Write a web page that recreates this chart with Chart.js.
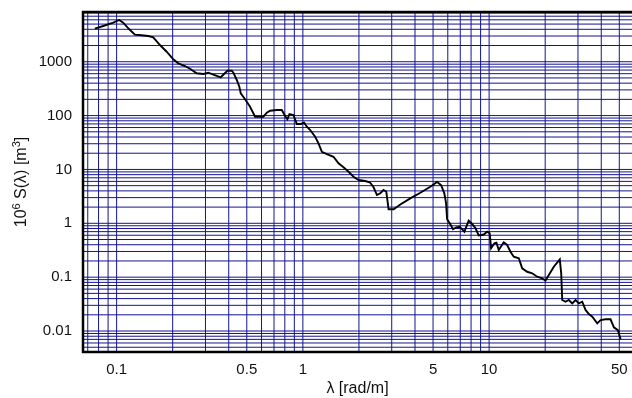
<!DOCTYPE html>
<html>
<head>
<meta charset="utf-8">
<script src="https://cdn.jsdelivr.net/npm/chart.js@4.4.1/dist/chart.umd.min.js"></script>
<style>
  html, body { margin: 0; padding: 0; background: #fff; }
  #chart { display: block; }
</style>
</head>
<body>
<canvas id="chart" width="632" height="398"></canvas>
<script>
// wavenumber lambda [rad/m]
const lambda = [
  0.0764, 0.0847, 0.0959, 0.1033, 0.1085, 0.1169, 0.1254, 0.1363, 0.1479, 0.1573,
  0.1709, 0.1857, 0.2015, 0.2144, 0.2329, 0.2477, 0.2692, 0.2921, 0.3108, 0.3307,
  0.3623, 0.3775, 0.3932, 0.4152, 0.4235, 0.4417, 0.456, 0.464, 0.4896, 0.5206,
  0.554, 0.614, 0.6404, 0.6671, 0.7247, 0.771, 0.8033, 0.8264, 0.8472, 0.8902,
  0.9284, 0.9755, 1.016, 1.051, 1.095, 1.164, 1.213, 1.265, 1.346, 1.460,
  1.554, 1.653, 1.759, 1.871, 1.991, 2.163, 2.301, 2.397, 2.499, 2.604,
  2.713, 2.805, 2.886, 3.070, 3.336, 3.775, 4.272, 4.835, 5.253, 5.52,
  5.75, 5.874, 5.947, 6.141, 6.405, 6.672, 6.95, 7.365, 7.768, 8.103,
  8.44, 8.794, 9.354, 9.755, 10.07, 10.25, 10.68, 10.95, 11.26, 11.98,
  12.50, 13.02, 13.56, 14.43, 15.05, 16.01, 17.03, 18.12, 19.27, 20.07,
  20.92, 22.25, 23.96, 24.38, 24.69, 25.72, 26.79, 27.94, 29.11, 30.32,
  31.62, 32.94, 34.32, 35.80, 38.07, 39.67, 42.20, 44.88, 46.77, 49.14,
  50.8
];
// 10^6 S(lambda) [m^3]
const spectrum = [
  4104, 4605, 5302, 5951, 5302, 3999, 3176, 3095, 3004, 2841,
  2044, 1535, 1109, 935, 833, 742, 610, 592, 625, 574,
  514, 592, 681, 681, 625, 458, 344, 259, 201, 146,
  95.3, 95.3, 113, 123, 127, 127, 98.2, 85.3, 107, 102.5,
  69.8, 69.8, 73.8, 62.2, 54.0, 40.5, 30.6, 21.3, 19.3, 17.2,
  13.0, 10.96, 9.08, 7.33, 6.37, 6.10, 5.67, 4.66, 3.35, 3.61,
  4.15, 3.86, 1.82, 1.82, 2.23, 2.91, 3.70, 4.78, 5.85, 5.14,
  3.61, 2.35, 1.187, 1.0, 0.774, 0.843, 0.865, 0.698, 1.117, 0.970,
  0.818, 0.594, 0.620, 0.698, 0.652, 0.343, 0.425, 0.436, 0.319, 0.444,
  0.396, 0.297, 0.240, 0.224, 0.146, 0.126, 0.118, 0.102, 0.0953, 0.0860,
  0.1097, 0.156, 0.213, 0.118, 0.0377, 0.0350, 0.0377, 0.0327, 0.0377, 0.0327,
  0.0350, 0.0246, 0.0207, 0.0184, 0.0139, 0.0160, 0.0165, 0.0165, 0.0117, 0.0104,
  0.00702
];
const xTickLabels = [0.1, 0.5, 1, 5, 10, 50];
const yTickLabels = [0.01, 0.1, 1, 10, 100, 1000];
const xRange = [0.066, 58.5];
const yRange = [0.00408, 8380];

const gridColor = 'rgb(20, 20, 145)';
const tickFont = { family: '"Liberation Sans", Arial, sans-serif', size: 15 };

// 1..9 x 10^n grid lines inside the range
function logGrid(min, max) {
  const out = [];
  for (let e = Math.floor(Math.log10(min)); e <= Math.ceil(Math.log10(max)); e++) {
    for (let m = 1; m <= 9; m++) {
      const v = +(m * Math.pow(10, e)).toPrecision(6);
      if (v > min && v < max) out.push(v);
    }
  }
  return out;
}

function labelFor(list) {
  return (value) => {
    const hit = list.find(l => Math.abs(l - value) / l < 1e-6);
    return hit !== undefined ? String(hit) : '';
  };
}

// grid drawn at the unrounded scale positions, like the original plot
const gridPlugin = {
  id: 'softGrid',
  beforeDatasetsDraw(chart) {
    const { ctx, chartArea: a, scales } = chart;
    ctx.save();
    ctx.strokeStyle = gridColor;
    ctx.lineWidth = 1;
    ctx.beginPath();
    scales.x.ticks.forEach(t => {
      const px = scales.x.getPixelForValue(t.value);
      ctx.moveTo(px, a.top);
      ctx.lineTo(px, a.bottom);
    });
    scales.y.ticks.forEach(t => {
      const py = scales.y.getPixelForValue(t.value);
      ctx.moveTo(a.left, py);
      ctx.lineTo(a.right, py);
    });
    ctx.stroke();
    ctx.restore();
  }
};

const yTitleParts = [['10', false], ['6', true], [' S(\u03bb) [m', false], ['3', true], [']', false]];

const framePlugin = {
  id: 'frame',
  afterDraw(chart) {
    const { ctx, chartArea: a } = chart;
    ctx.save();
    ctx.strokeStyle = '#000';
    ctx.lineWidth = 2.5;
    ctx.beginPath();
    ctx.moveTo(a.right + 2, a.top);
    ctx.lineTo(a.left, a.top);
    ctx.lineTo(a.left, a.bottom);
    ctx.lineTo(a.right + 2, a.bottom);
    ctx.stroke();

    // y axis title with superscripts
    const normal = '16px "Liberation Sans", Arial, sans-serif';
    const small = '11px "Liberation Sans", Arial, sans-serif';
    let total = 0;
    yTitleParts.forEach(([t, sup]) => {
      ctx.font = sup ? small : normal;
      total += ctx.measureText(t).width;
    });
    ctx.translate(26, (a.top + a.bottom) / 2);
    ctx.rotate(-Math.PI / 2);
    ctx.fillStyle = '#111';
    ctx.textBaseline = 'alphabetic';
    ctx.textAlign = 'left';
    let x = -total / 2;
    yTitleParts.forEach(([t, sup]) => {
      ctx.font = sup ? small : normal;
      ctx.fillText(t, x, sup ? -6 : 0);
      x += ctx.measureText(t).width;
    });
    ctx.restore();
  }
};

const ctx = document.getElementById('chart').getContext('2d');

const myChart = new Chart(ctx, {
  type: 'line',
  data: {
    datasets: [{
      data: lambda.map((l, i) => ({ x: l, y: spectrum[i] })),
      borderColor: '#000',
      borderWidth: 1.9,
      pointRadius: 0,
      tension: 0,
      fill: false
    }]
  },
  options: {
    responsive: false,
    animation: false,
    devicePixelRatio: 1,
    layout: { padding: { top: 12, right: 0, bottom: 0, left: 0 } },
    plugins: {
      legend: { display: false },
      tooltip: { enabled: false }
    },
    scales: {
      x: {
        type: 'logarithmic',
        min: xRange[0],
        max: xRange[1],
        afterBuildTicks: (scale) => { scale.ticks = logGrid(xRange[0], xRange[1]).map(v => ({ value: v })); },
        afterFit: (scale) => {
          scale.height = 46;
          scale.paddingLeft = 0;
          scale.paddingRight = 0;
        },
        border: { display: false },
        grid: { display: false, drawTicks: false },
        ticks: {
          autoSkip: false,
          maxRotation: 0,
          padding: 9,
          color: '#111',
          font: tickFont,
          callback: labelFor(xTickLabels)
        },
        title: {
          display: true,
          text: '\u03bb [rad/m]',
          color: '#111',
          font: { family: '"Liberation Sans", Arial, sans-serif', size: 16 },
          padding: { top: 0, bottom: 0 }
        }
      },
      y: {
        type: 'logarithmic',
        min: yRange[0],
        max: yRange[1],
        afterBuildTicks: (scale) => { scale.ticks = logGrid(yRange[0], yRange[1]).map(v => ({ value: v })); },
        afterFit: (scale) => {
          scale.width = 83;
          scale.paddingTop = 0;
          scale.paddingBottom = 0;
        },
        border: { display: false },
        grid: { display: false, drawTicks: false },
        ticks: {
          autoSkip: false,
          padding: 11,
          color: '#111',
          font: tickFont,
          callback: labelFor(yTickLabels)
        }
      }
    }
  },
  plugins: [gridPlugin, framePlugin]
});
</script>
</body>
</html>
